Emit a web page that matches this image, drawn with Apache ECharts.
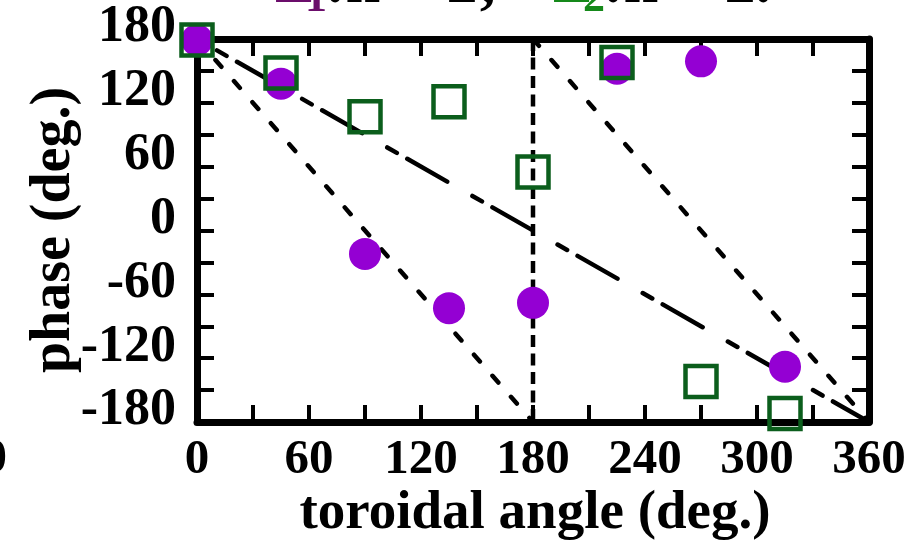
<!DOCTYPE html>
<html>
<head>
<meta charset="utf-8">
<script src="https://cdn.jsdelivr.net/npm/echarts@6/dist/echarts.min.js"></script>
<style>
  html, body { margin: 0; padding: 0; background: #fff; }
  #chart { width: 923px; height: 542px; }
</style>
</head>
<body>
<div id="chart"></div>
<script>
// Probe positions (toroidal angle, deg.)
const toroidalAngle = [0, 45, 90, 135, 180, 225, 270, 315];
// Measured phase of each mode at those probes (deg.)
const phaseSigma1 = [179, 138, -22, -73, -68, 152, 159, -128];
const phaseSigma2 = [179, 148, 107, 121, 55, 158, -142, -172];

// Reference phase lines: [angle, phase] end points
const slopeOneLine = [[0, 180], [360, -180]];
const slopeTwoFirst = [[0, 180], [180, -180]];
const slopeTwoSecond = [[180, 180], [360, -180]];
const halfTurnMarker = [[180, 180], [180, -180]];

// Labelled tick values
const xTickLabels = [0, 60, 120, 180, 240, 300, 360];
const yTickLabels = [-180, -120, -60, 0, 60, 120, 180];

const FONT = 'Liberation Serif';
const SIGMA1_COLOR = '#9400D3';
const SIGMA2_COLOR = '#0b5e1c';
const KEY1_COLOR = '#6b0d6b';
const KEY2_COLOR = '#15891a';

const chart = echarts.init(document.getElementById('chart'), null, { renderer: 'canvas' });

const pair = (xs, ys) => xs.map((x, i) => [x, ys[i]]);

const axisLineStyle = { show: true, onZero: false, lineStyle: { color: '#000', width: 7 } };
const tickStyle = { show: true, inside: true, length: 17, lineStyle: { color: '#000', width: 4 } };

// a single bold serif text piece
const textPiece = (text, x, y, size, color, align, rotation) => ({
  type: 'text',
  position: [x, y],
  rotation: rotation || 0,
  silent: true,
  style: {
    text, fill: color,
    font: 'bold ' + size + 'px "Liberation Serif"',
    align: align || 'left', verticalAlign: 'middle'
  }
});

const option = {
  animation: false,
  backgroundColor: '#fff',
  grid: { left: 197, top: 39, right: 54, bottom: 120, containLabel: false },
  xAxis: [
    {
      type: 'value', position: 'bottom', min: 0, max: 360, interval: 30,
      axisLine: axisLineStyle, axisTick: tickStyle, splitLine: { show: false },
      axisLabel: {
        margin: 14, color: '#000', fontFamily: FONT, fontWeight: 'bold', fontSize: 49,
        formatter: v => xTickLabels.includes(v) ? String(v) : ''
      }
    },
    {
      type: 'value', position: 'top', min: 0, max: 360, interval: 30,
      axisLine: axisLineStyle, axisTick: tickStyle, splitLine: { show: false },
      axisLabel: { show: false }
    }
  ],
  yAxis: [
    {
      type: 'value', position: 'left', min: -180, max: 180, interval: 30,
      axisLine: axisLineStyle, axisTick: tickStyle, splitLine: { show: false },
      axisLabel: {
        margin: 21, color: '#000', fontFamily: FONT, fontWeight: 'bold', fontSize: 52,
        verticalAlign: 'bottom', lineHeight: 22,
        formatter: v => yTickLabels.includes(v) ? String(v) : ''
      }
    },
    {
      type: 'value', position: 'right', min: -180, max: 180, interval: 30,
      axisLine: axisLineStyle, axisTick: tickStyle, splitLine: { show: false },
      axisLabel: { show: false }
    }
  ],
  series: [
    {
      type: 'line', data: slopeOneLine, showSymbol: false, silent: true, z: 1,
      lineStyle: { color: '#000', width: 4.5, type: [11, 12, 46, 29], dashOffset: 75, cap: 'round' }
    },
    {
      type: 'line', data: slopeTwoFirst, showSymbol: false, silent: true, z: 1,
      lineStyle: { color: '#000', width: 4.5, type: [9, 19], cap: 'round' }
    },
    {
      type: 'line', data: slopeTwoSecond, showSymbol: false, silent: true, z: 1,
      lineStyle: { color: '#000', width: 4.5, type: [9, 19], cap: 'round' }
    },
    {
      type: 'line', data: halfTurnMarker, showSymbol: false, silent: true, z: 1,
      lineStyle: { color: '#000', width: 4.5, type: [12, 6.5], cap: 'butt' }
    },
    {
      name: 'Σ1', type: 'scatter', data: pair(toroidalAngle, phaseSigma1), z: 3,
      symbol: 'circle', symbolSize: 32, clip: false,
      itemStyle: { color: SIGMA1_COLOR, opacity: 1 }
    },
    {
      name: 'Σ2', type: 'scatter', data: pair(toroidalAngle, phaseSigma2), z: 4,
      symbol: 'rect', symbolSize: 31, clip: false,
      itemStyle: { color: 'rgba(0,0,0,0)', borderColor: SIGMA2_COLOR, borderWidth: 4.5, opacity: 1 }
    }
  ],
  graphic: [
    // axis titles
    textPiece('phase (deg.)', 55, 230, 56, '#000', 'center', Math.PI / 2),
    textPiece('toroidal angle (deg.)', 535, 514, 55, '#000', 'center'),
    // tail of the neighbouring panel's axis label
    textPiece('0', 7, 459, 49, '#000', 'right'),
    // key line along the top edge
    textPiece('Σ', 274, -14, 62, KEY1_COLOR),
    textPiece('1', 305, 0, 44, KEY1_COLOR),
    textPiece(':n = 2;', 325, -14, 62, '#000'),
    textPiece('Σ', 552, -14, 62, KEY2_COLOR),
    textPiece('2', 583, 0, 44, KEY2_COLOR),
    textPiece(':n = 2.', 603, -14, 62, '#000')
  ]
};

chart.setOption(option);
</script>
</body>
</html>
